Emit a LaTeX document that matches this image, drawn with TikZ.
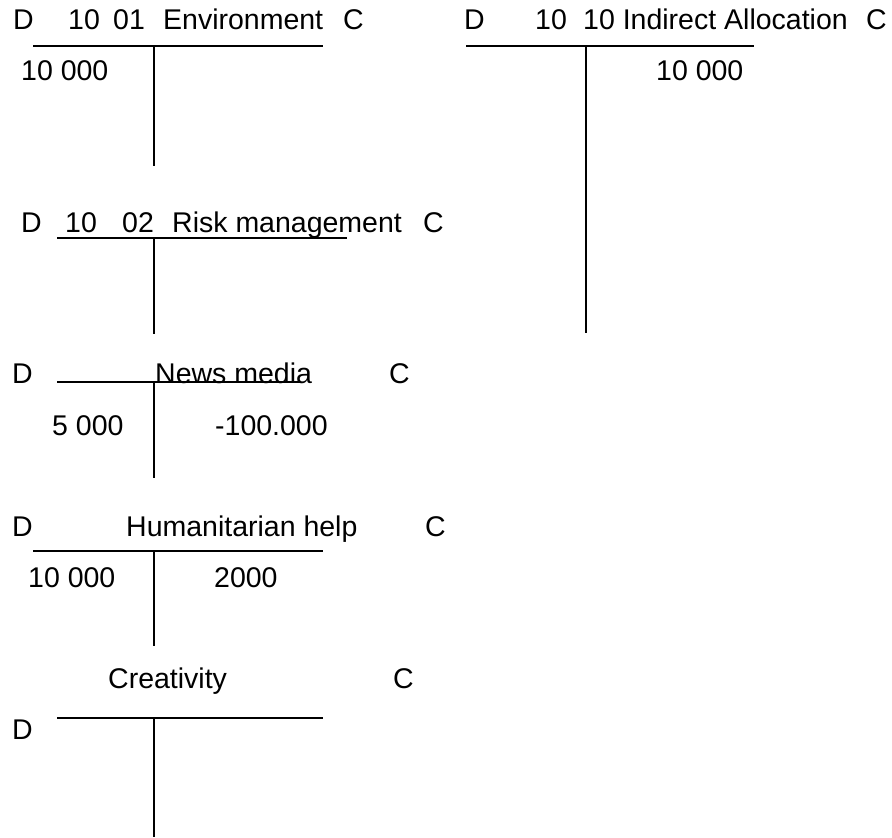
\documentclass[tikz,border=0pt]{standalone}
\usepackage{fontspec}
\setmainfont{Liberation Sans}
\begin{document}
\begin{tikzpicture}[x=1pt,y=-1pt,
  lbl/.style={anchor=base west,inner sep=0pt,font=\fontsize{28.5}{30}\selectfont},
  rule/.style={line width=1.6pt,black}]
\useasboundingbox (0,0) rectangle (892,838);
% --- 10 01 Environment
\node[lbl] (envD) at (13,29) {D};
\node[lbl] (envA) at (68,29) {10};
\node[lbl] (envB) at (113,29) {01};
\node[lbl] (envT) at (163,29) {Environment};
\node[lbl] (envC) at (343,29) {C};
\draw[rule] (33,46) -- (323,46);
\draw[rule] (154,46) -- (154,166);
\node[lbl] (envv1) at (21,80) {10 000};
% --- 10 10 Indirect Allocation
\node[lbl] (indD) at (464,29) {D};
\node[lbl] (indA) at (535,29) {10};
\node[lbl] (indT) at (583,29) {10 Indirect Allocation};
\node[lbl] (indC) at (866,29) {C};
\draw[rule] (466,46) -- (754,46);
\draw[rule] (586,46) -- (586,333);
\node[lbl] (indv1) at (656,80) {10 000};
% --- 10 02 Risk management
\node[lbl] (rskD) at (21,232) {D};
\node[lbl] (rskA) at (65,232) {10};
\node[lbl] (rskB) at (122,232) {02};
\node[lbl] (rskT) at (172,232) {Risk management};
\node[lbl] (rskC) at (423,232) {C};
\draw[rule] (57,238) -- (347,238);
\draw[rule] (154,238) -- (154,334);
% --- News media
\node[lbl] (nwsD) at (12,383) {D};
\node[lbl] (nwsT) at (155,383) {News media};
\node[lbl] (nwsC) at (389,383) {C};
\draw[rule] (57,382) -- (300,382);
\draw[rule] (154,382) -- (154,478);
\node[lbl] (nwsv1) at (52,435) {5 000};
\node[lbl] (nwsv2) at (215,435) {-100.000};
% --- Humanitarian help
\node[lbl] (humD) at (12,536) {D};
\node[lbl] (humT) at (126,536) {Humanitarian help};
\node[lbl] (humC) at (425,536) {C};
\draw[rule] (33,551) -- (323,551);
\draw[rule] (154,551) -- (154,646);
\node[lbl] (humv1) at (28,587) {10 000};
\node[lbl] (humv2) at (214,587) {2000};
% --- Creativity
\node[lbl] (creT) at (108,688) {Creativity};
\node[lbl] (creC) at (393,688) {C};
\node[lbl] (creD) at (12,739) {D};
\draw[rule] (57,718) -- (323,718);
\draw[rule] (154,718) -- (154,837);
\end{tikzpicture}
\end{document}
